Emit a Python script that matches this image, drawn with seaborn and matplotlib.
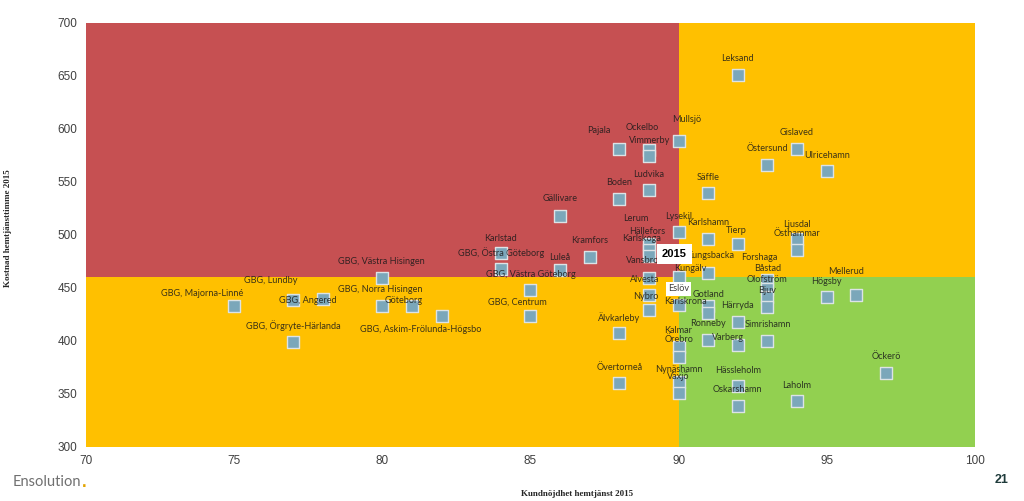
import matplotlib.pyplot as plt
import pandas as pd
import seaborn as sns

# Kommuner: kundnöjdhet (x) mot kostnad per hemtjänsttimme (y), 2015
names = ["GBG, Majorna-Linné", "GBG, Lundby", "GBG, Angered", "GBG, Västra Hisingen",
         "GBG, Norra Hisingen", "Göteborg", "GBG, Askim-Frölunda-Högsbo", "GBG, Örgryte-Härlanda",
         "Karlstad", "GBG, Östra Göteborg", "GBG, Västra Göteborg", "GBG, Centrum",
         "Luleå", "Gällivare", "Kramfors", "Pajala", "Boden", "Älvkarleby", "Övertorneå",
         "Ockelbo", "Vimmerby", "Ludvika", "Lerum", "Hällefors", "Karlskoga", "Vansbro",
         "Alvesta", "Nybro", "Mullsjö", "Lysekil", "Kungälv", "Eslöv", "Karlskrona",
         "Gotland", "Kalmar", "Örebro", "Nynäshamn", "Växjö", "Säffle", "Karlshamn",
         "Kungsbacka", "Ronneby", "Leksand", "Tierp", "Härryda", "Varberg", "Hässleholm",
         "Oskarshamn", "Östersund", "Forshaga", "Båstad", "Olofström", "Bjuv", "Simrishamn",
         "Gislaved", "Ljusdal", "Östhammar", "Laholm", "Ulricehamn", "Högsby", "Mellerud",
         "Öckerö"]
satisfaction = [75, 77, 78, 80, 80, 81, 82, 77,
                84, 84, 85, 85,
                86, 86, 87, 88, 88, 88, 88,
                89, 89, 89, 89, 89, 89, 89,
                89, 89, 90, 90, 90, 90, 91,
                91, 90, 90, 90, 90, 91, 91,
                91, 91, 92, 92, 92, 92, 92,
                92, 93, 93, 93, 93, 93, 93,
                94, 94, 94, 94, 95, 95, 96,
                97]
cost = [433, 438, 439, 459, 433, 433, 423, 399,
        483, 468, 448, 423,
        467, 518, 479, 581, 534, 407, 360,
        580, 574, 542, 491, 486, 480, 459,
        443, 429, 588, 503, 460, 434, 433,
        426, 394, 385, 361, 351, 539, 496,
        464, 401, 651, 491, 418, 396, 357,
        339, 566, 457, 449, 441, 432, 400,
        581, 496, 486, 343, 560, 441, 443,
        370]

X_SPLIT = 90
Y_SPLIT = 460

df = pd.DataFrame({"namn": names, "nojdhet": satisfaction, "kostnad": cost})

# label offsets in pixels (default: centred above the marker)
default_offset = (0, 16)
offsets = {
    "GBG, Majorna-Linné": (-32, 12), "GBG, Lundby": (-23, 20), "GBG, Angered": (-15, -1),
    "GBG, Västra Hisingen": (-1, 17), "GBG, Norra Hisingen": (-2, 16), "Göteborg": (-8, 5),
    "GBG, Askim-Frölunda-Högsbo": (-21, -13), "Karlstad": (0, 14), "GBG, Västra Göteborg": (0, 15),
    "GBG, Centrum": (-13, 14), "Luleå": (0, 12), "Gällivare": (0, 17), "Pajala": (-21, 18),
    "Ockelbo": (-7, 22), "Vimmerby": (1, 16), "Lerum": (-13, 26), "Hällefors": (-2, 18),
    "Karlskoga": (-7, 17), "Vansbro": (-6, 18), "Alvesta": (-4, 16), "Nybro": (-3, 14),
    "Mullsjö": (8, 22), "Lysekil": (0, 15), "Kungälv": (12, 9), "Karlskrona": (-23, 4),
    "Gotland": (0, 19), "Kalmar": (0, 17), "Örebro": (0, 17), "Nynäshamn": (0, 13),
    "Varberg": (-10, 8), "Tierp": (-2, 14), "Forshaga": (-8, 23), "Båstad": (0, 20),
    "Olofström": (0, 18), "Ljusdal": (0, 14), "Mellerud": (-10, 24), "Kungsbacka": (2, 17),
}

sns.set_style("white")
plt.rcParams["font.family"] = ["Liberation Sans", "DejaVu Sans"]

fig, ax = plt.subplots(figsize=(10.24, 5.01), dpi=100)
fig.subplots_adjust(left=0.084, right=0.952, top=0.955, bottom=0.108)

# quadrants
ax.fill_between([70, X_SPLIT], Y_SPLIT, 700, color="#C65052", lw=0, zorder=0)
ax.fill_between([X_SPLIT, 100], Y_SPLIT, 700, color="#FFC000", lw=0, zorder=0)
ax.fill_between([70, X_SPLIT], 300, Y_SPLIT, color="#FFC000", lw=0, zorder=0)
ax.fill_between([X_SPLIT, 100], 300, Y_SPLIT, color="#92D050", lw=0, zorder=0)

sns.scatterplot(data=df, x="nojdhet", y="kostnad", marker="s", s=80, color="#7BA7BA",
                edgecolor="#DCE3E6", linewidth=1.0, ax=ax, zorder=3)

for n, xv, yv in zip(names, satisfaction, cost):
    dx, dy = offsets.get(n, default_offset)
    kw = {}
    if n == "Eslöv":
        kw["bbox"] = dict(boxstyle="square,pad=0.25", fc="white", ec="none")
    ax.annotate(n, (xv, yv), xytext=(dx, dy), textcoords="offset pixels",
                ha="center", va="center", fontsize=6.6, color="#1a1a1a", alpha=0.85,
                family=["Lato", "DejaVu Sans"], zorder=4, **kw)

ax.text(89.85, 482, "2015", ha="center", va="center", fontsize=8, fontweight="bold",
        color="black", zorder=6,
        bbox=dict(boxstyle="square,pad=0.45", fc="white", ec="none"))

ax.set_xlim(70, 100)
ax.set_ylim(300, 700)
ax.set_xticks(range(70, 101, 5))
ax.set_yticks(range(300, 701, 50))
ax.tick_params(labelsize=8.5, labelcolor="#404040", length=0, pad=6)
for s in ax.spines.values():
    s.set_visible(False)

ax.set_xlabel("Kundnöjdhet hemtjänst 2015", family="Liberation Serif", fontweight="bold",
              fontsize=6.5)
ax.set_ylabel("Kostnad hemtjänsttimme 2015", family="Liberation Serif", fontweight="bold",
              fontsize=6.5)
ax.xaxis.set_label_coords(0.552, -0.102)
ax.yaxis.set_label_coords(-0.083, 0.516)

logo = fig.text(0.012, 0.038, "Ensolution", fontsize=10.5, color="#707070", family="Lato",
                va="center")
ax.annotate(".", xy=(1.0, 0.0), xycoords=logo, xytext=(0.5, -1), textcoords="offset points",
            fontsize=12, color="#E2A400", fontweight="bold", va="bottom", annotation_clip=False)
fig.text(0.985, 0.042, "21", fontsize=9, color="#1F3B3B", fontweight="bold",
         ha="right", va="center")

fig.savefig("out.png", dpi=100)
